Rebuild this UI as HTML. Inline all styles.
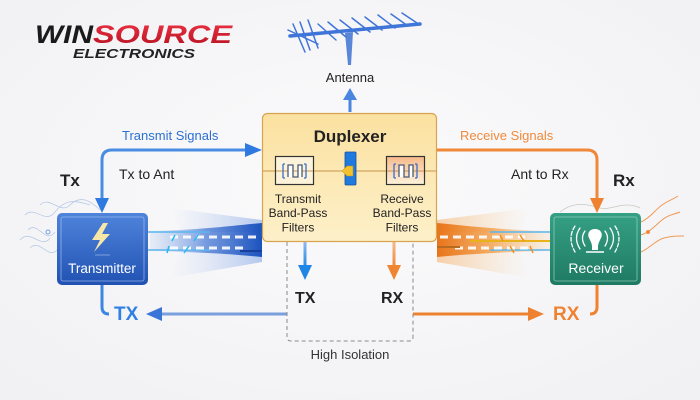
<!DOCTYPE html>
<html><head><meta charset="utf-8"><style>
html,body{margin:0;padding:0;background:#f6f6f8;}
svg{display:block;}
text{font-family:"Liberation Sans",sans-serif;}
</style></head><body>
<svg width="700" height="400" viewBox="0 0 700 400" xmlns="http://www.w3.org/2000/svg">
<defs>
<radialGradient id="bg" cx="50%" cy="45%" r="70%"><stop offset="0" stop-color="#fbfbfc"/><stop offset="1" stop-color="#f1f1f4"/></radialGradient>
<linearGradient id="dup" x1="0" y1="0" x2="0" y2="1"><stop offset="0" stop-color="#fbe1a0"/><stop offset="1" stop-color="#fdf0c9"/></linearGradient>
<linearGradient id="txg" x1="0" y1="0" x2="0" y2="1"><stop offset="0" stop-color="#4f84db"/><stop offset="1" stop-color="#2152b3"/></linearGradient>
<linearGradient id="rxg" x1="0" y1="0" x2="0" y2="1"><stop offset="0" stop-color="#35a084"/><stop offset="1" stop-color="#1f7a63"/></linearGradient>
<linearGradient id="red" x1="0" y1="0" x2="0" y2="1"><stop offset="0" stop-color="#ee3345"/><stop offset="1" stop-color="#b3101e"/></linearGradient>
<linearGradient id="bcore" x1="0" y1="0" x2="1" y2="0"><stop offset="0" stop-color="#8fb3ee" stop-opacity="0.15"/><stop offset="0.5" stop-color="#3f72d3" stop-opacity="0.7"/><stop offset="1" stop-color="#1b52bd"/></linearGradient>
<linearGradient id="bfan" x1="0" y1="0" x2="1" y2="0"><stop offset="0" stop-color="#a9c2ef" stop-opacity="0"/><stop offset="1" stop-color="#6f97e2" stop-opacity="0.5"/></linearGradient>
<linearGradient id="ocore" x1="1" y1="0" x2="0" y2="0"><stop offset="0" stop-color="#f8c88a" stop-opacity="0.15"/><stop offset="0.5" stop-color="#f29a3e" stop-opacity="0.75"/><stop offset="1" stop-color="#e8741a"/></linearGradient>
<linearGradient id="ofan" x1="1" y1="0" x2="0" y2="0"><stop offset="0" stop-color="#f8c88a" stop-opacity="0"/><stop offset="1" stop-color="#f3a556" stop-opacity="0.5"/></linearGradient>
<linearGradient id="txarr" x1="0" y1="0" x2="0" y2="1"><stop offset="0" stop-color="#8fb8ee"/><stop offset="1" stop-color="#1f86e6"/></linearGradient>
<linearGradient id="rxarr" x1="0" y1="0" x2="0" y2="1"><stop offset="0" stop-color="#f5b98a"/><stop offset="1" stop-color="#ef8530"/></linearGradient>
<linearGradient id="rfil" x1="0" y1="0" x2="0" y2="1"><stop offset="0" stop-color="#f7b98a"/><stop offset="1" stop-color="#fdf3dc"/></linearGradient>
</defs>
<rect width="700" height="400" fill="url(#bg)"/>

<!-- Logo -->
<text x="35" y="43" font-size="25" font-weight="bold" font-style="italic" fill="#1a1a1a" textLength="58" lengthAdjust="spacingAndGlyphs">WIN</text>
<text x="93" y="43" font-size="25" font-weight="bold" font-style="italic" fill="url(#red)" textLength="139" lengthAdjust="spacingAndGlyphs">SOURCE</text>
<text x="73" y="58" font-size="13" font-weight="bold" font-style="italic" fill="#222" textLength="122" lengthAdjust="spacingAndGlyphs">ELECTRONICS</text>

<!-- Antenna -->
<g stroke="#3f74d8" stroke-linecap="round" fill="none">
<polygon points="345,33 353,32 351,65 348,65" fill="#5a86d8" stroke="none"/>
<line x1="290" y1="36" x2="420" y2="24" stroke-width="3.5"/>
<g stroke-width="1.5">
<line x1="293" y1="24" x2="305" y2="52"/>
<line x1="300" y1="22" x2="310" y2="50"/>
<line x1="308" y1="20" x2="318" y2="48"/>
<line x1="288" y1="30" x2="318" y2="44"/>
<line x1="318" y1="24" x2="336" y2="40"/>
<line x1="328" y1="22" x2="346" y2="37"/>
<line x1="340" y1="20" x2="358" y2="34"/>
<line x1="352" y1="18" x2="370" y2="32"/>
<line x1="365" y1="17" x2="382" y2="30"/>
<line x1="378" y1="15" x2="395" y2="28"/>
<line x1="391" y1="14" x2="408" y2="26"/>
<line x1="402" y1="13" x2="420" y2="25"/>
</g>
</g>
<text x="350" y="82" font-size="13" text-anchor="middle" fill="#222">Antenna</text>
<line x1="350" y1="112" x2="350" y2="98" stroke="#4a86e0" stroke-width="3"/>
<polygon points="343,100 357,100 350,88" fill="#4a86e0"/>

<!-- faint wavy lines left -->
<g fill="none" stroke="#9fb9de" stroke-width="0.8" opacity="0.7">
<path d="M25,215 C35,205 45,225 55,212 S75,200 90,205"/>
<path d="M28,230 C38,220 45,245 55,232"/>
<path d="M30,248 C40,238 48,260 57,250"/>
<path d="M40,205 C50,195 60,215 70,205 S90,200 100,210"/>
<path d="M20,240 C30,228 42,250 50,238"/>
</g>
<circle cx="48" cy="232" r="2" fill="none" stroke="#6fa3e0"/>
<!-- faint wavy right -->
<g fill="none" stroke="#ef8a3a" stroke-width="1" opacity="0.85">
<path d="M641,222 C650,218 655,210 662,205 S672,200 678,196"/>
<path d="M641,235 C650,232 656,225 662,220 S672,215 680,212"/>
<path d="M641,252 C650,248 656,240 664,238 S676,236 684,236"/>
</g>
<circle cx="648" cy="232" r="2" fill="#ef8a3a"/>
<g fill="none" stroke="#c9c9c0" stroke-width="0.8">
<path d="M560,212 C575,200 590,205 600,208 S625,200 640,208"/>
</g>

<!-- Blue beam -->
<polygon points="170,208 262,220 262,232 180,232" fill="url(#bfan)"/>
<polygon points="170,278 262,262 262,250 180,250" fill="url(#bfan)"/>
<path d="M150,231 C200,230 230,226 262,223 L262,257 C230,254 200,252 150,251 Z" fill="url(#bcore)"/>
<line x1="148" y1="232" x2="210" y2="232" stroke="#5ab6f0" stroke-width="1.5"/>
<line x1="148" y1="250" x2="210" y2="250" stroke="#5ab6f0" stroke-width="1.5"/>
<line x1="170" y1="237" x2="260" y2="237" stroke="#fff" stroke-width="3" stroke-dasharray="8,5" opacity="0.9"/>
<line x1="170" y1="248" x2="245" y2="248" stroke="#fff" stroke-width="3" stroke-dasharray="8,5" opacity="0.9"/>
<line x1="240" y1="251" x2="262" y2="251" stroke="#153f9a" stroke-width="2"/>
<g stroke="#28b8f0" stroke-width="1.5"><line x1="172" y1="241" x2="175" y2="235"/><line x1="194" y1="241" x2="198" y2="235"/><line x1="167" y1="253" x2="169" y2="246"/><line x1="184" y1="253" x2="189" y2="246"/></g>

<!-- Orange beam -->
<polygon points="530,208 437,220 437,232 520,232" fill="url(#ofan)"/>
<polygon points="530,278 437,262 437,250 520,250" fill="url(#ofan)"/>
<path d="M550,231 C500,230 470,226 437,223 L437,257 C470,254 500,252 550,251 Z" fill="url(#ocore)"/>
<line x1="490" y1="232" x2="552" y2="232" stroke="#5ab6f0" stroke-width="1.5"/>
<line x1="490" y1="250" x2="552" y2="250" stroke="#5ab6f0" stroke-width="1.5"/>
<line x1="470" y1="241" x2="552" y2="241" stroke="#e9b21c" stroke-width="2"/>
<line x1="440" y1="237" x2="525" y2="237" stroke="#fff" stroke-width="3" stroke-dasharray="8,5" opacity="0.9"/>
<line x1="455" y1="248" x2="530" y2="248" stroke="#fff" stroke-width="3" stroke-dasharray="8,5" opacity="0.9"/>
<line x1="437" y1="247" x2="460" y2="247" stroke="#b86a20" stroke-width="2"/>
<g stroke="#f0901e" stroke-width="1.5"><line x1="500" y1="235" x2="503" y2="241"/><line x1="520" y1="235" x2="524" y2="241"/><line x1="510" y1="246" x2="514" y2="253"/><line x1="530" y1="246" x2="533" y2="253"/></g>

<!-- Transmit signals path -->
<path d="M250,150 H112 Q102,150 102,160 V200" fill="none" stroke="#4a8ce2" stroke-width="3"/>
<polygon points="245,143 262,150 245,157" fill="#2f7ae0"/>
<polygon points="95,198 109,198 102,213" fill="#2f7ae0"/>
<text x="122" y="140" font-size="13" fill="#2d6fd1">Transmit Signals</text>
<text x="60" y="186" font-size="17" font-weight="bold" fill="#222">Tx</text>
<text x="119" y="179" font-size="14" fill="#222">Tx to Ant</text>

<!-- Receive signals path -->
<path d="M437,150 H587 Q597,150 597,160 V200" fill="none" stroke="#f0883a" stroke-width="3"/>
<polygon points="590,198 604,198 597,213" fill="#ef8230"/>
<text x="460" y="140" font-size="13" fill="#f08a3c">Receive Signals</text>
<text x="511" y="179" font-size="14" fill="#222">Ant to Rx</text>
<text x="613" y="186" font-size="17" font-weight="bold" fill="#222">Rx</text>

<!-- Bottom paths -->
<path d="M102,285 V307 Q102,314 109,314" fill="none" stroke="#3b86e0" stroke-width="3"/>
<text x="114" y="320" font-size="19" font-weight="bold" fill="#2f80e4">TX</text>
<line x1="287" y1="314" x2="160" y2="314" stroke="#7b9fdc" stroke-width="3"/>
<polygon points="146,314 162,307 162,321" fill="#3a74d6"/>
<path d="M597,285 V307 Q597,314 590,314" fill="none" stroke="#ef8230" stroke-width="3"/>
<text x="553" y="320" font-size="19" font-weight="bold" fill="#ef8230">RX</text>
<line x1="413" y1="314" x2="528" y2="314" stroke="#ef8230" stroke-width="3"/>
<polygon points="544,314 528,307 528,321" fill="#ef8230"/>

<!-- Dashed isolation box -->
<path d="M287,242 V337 Q287,341 291,341 H409 Q413,341 413,337 V242" fill="none" stroke="#8a8a90" stroke-width="1" stroke-dasharray="4,3"/>
<rect x="303.5" y="242" width="3" height="26" fill="url(#txarr)"/>
<polygon points="298,265 312,265 305,280" fill="#1f86e6"/>
<rect x="392.5" y="242" width="3" height="26" fill="url(#rxarr)"/>
<polygon points="387,265 401,265 394,280" fill="#ef8530"/>
<text x="295" y="303" font-size="16" font-weight="bold" fill="#222">TX</text>
<text x="381" y="303" font-size="16" font-weight="bold" fill="#222">RX</text>
<text x="350" y="359" font-size="13" text-anchor="middle" fill="#333">High Isolation</text>

<!-- Duplexer -->
<rect x="262.5" y="113.5" width="174" height="128" rx="5" fill="url(#dup)" stroke="#d8a452" stroke-width="1.2"/>
<line x1="263" y1="171" x2="436" y2="171" stroke="#c99550" stroke-width="1"/>
<text x="350" y="142" font-size="17" font-weight="bold" text-anchor="middle" fill="#222">Duplexer</text>
<rect x="275.5" y="156.5" width="38" height="28" fill="#fdf3da" stroke="#333" stroke-width="1.2"/>
<line x1="276" y1="171" x2="313" y2="171" stroke="#c99550"/>
<path d="M283,164 V178 M283,164 h2 M283,178 h2 M306,164 V178 M306,164 h-2 M306,178 h-2" stroke="#3b6fc9" stroke-width="1.3" fill="none"/>
<path d="M288,177 V165 H293 V177 H298 V165 H302 V177" stroke="#4a5a78" stroke-width="1.3" fill="#fff"/>
<rect x="386.5" y="156.5" width="38" height="28" fill="url(#rfil)" stroke="#333" stroke-width="1.2"/>
<line x1="387" y1="171" x2="424" y2="171" stroke="#c99550"/>
<path d="M394,164 V178 M394,164 h2 M394,178 h2 M417,164 V178 M417,164 h-2 M417,178 h-2" stroke="#3b6fc9" stroke-width="1.3" fill="none"/>
<path d="M399,177 V165 H404 V177 H409 V165 H413 V177" stroke="#4a5a78" stroke-width="1.3" fill="#fff"/>
<rect x="345" y="152" width="11" height="33" rx="1" fill="#1f7ae0" stroke="#1a4f9a" stroke-width="0.8"/>
<polygon points="342,171 347,166 353,166 353,176 347,176" fill="#f2c12e" stroke="#b98a10" stroke-width="0.5"/>
<g font-size="12" text-anchor="middle" fill="#222">
<text x="298" y="203">Transmit</text>
<text x="298" y="217">Band-Pass</text>
<text x="298" y="231.5">Filters</text>
<text x="402" y="203">Receive</text>
<text x="402" y="217">Band-Pass</text>
<text x="402" y="231.5">Filters</text>
</g>

<!-- Transmitter -->
<rect x="57" y="213" width="91" height="72" rx="5" fill="url(#txg)"/>
<rect x="61" y="217" width="83" height="64" rx="2" fill="none" stroke="#a9c3f0" stroke-width="0.8" opacity="0.8"/>
<polygon points="103,223 92,240 100,240 94,252 110,234 102,234 108,223" fill="#f6e7a8"/>
<line x1="95" y1="255" x2="110" y2="255" stroke="#7fa0d8" stroke-width="1"/>
<text x="102" y="273" font-size="13.5" text-anchor="middle" fill="#fff">Transmitter</text>

<!-- Receiver -->
<rect x="550" y="213" width="91" height="72" rx="5" fill="url(#rxg)"/>
<rect x="554" y="217" width="83" height="64" rx="2" fill="none" stroke="#9fd8c6" stroke-width="0.8" opacity="0.8"/>
<path d="M595,229 C601,229 603,234 601,238 C599,242 598,244 598,247 H592 C592,244 591,242 589,238 C587,234 589,229 595,229 Z" fill="#fff"/>
<rect x="592" y="247" width="6" height="3" fill="#fff"/>
<line x1="586" y1="252" x2="604" y2="252" stroke="#fff" stroke-width="1.5"/>
<g fill="none" stroke="#fff" stroke-width="1.3" stroke-linecap="round">
<path d="M585,231 Q580,238 585,246"/>
<path d="M580,228 Q573,238 580,249"/>
<path d="M575,226 Q567,238 575,252" stroke-dasharray="4,2"/>
<path d="M605,231 Q610,238 605,246"/>
<path d="M610,228 Q617,238 610,249"/>
<path d="M615,226 Q623,238 615,252" stroke-dasharray="4,2"/>
</g>
<text x="596" y="273" font-size="14" text-anchor="middle" fill="#fff">Receiver</text>
</svg>
</body></html>
